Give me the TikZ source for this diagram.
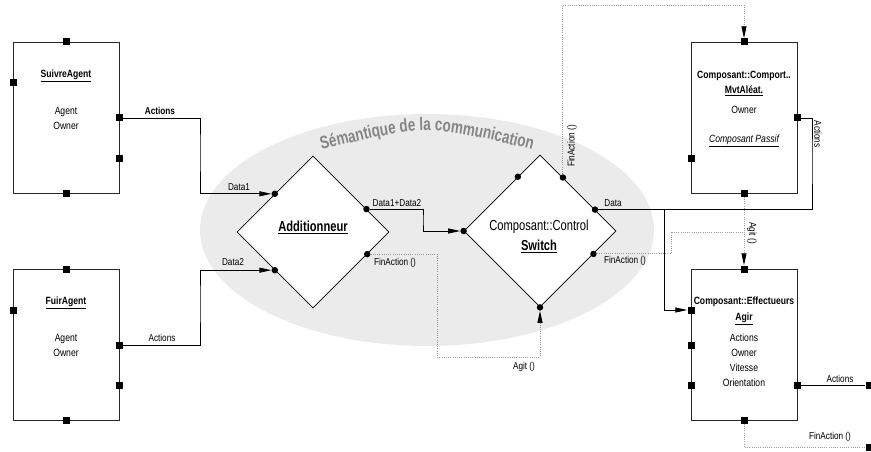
\documentclass[tikz,border=0pt]{standalone}
\usepackage{fontspec}
\setmainfont{Liberation Sans}[FakeStretch=0.82]
\newfontfamily\narrowfam{Liberation Sans}[FakeStretch=0.77]
\newfontfamily\semfam{Liberation Sans}[FakeStretch=0.75]
\usetikzlibrary{shapes.geometric,arrows.meta,decorations.text,calc}
\definecolor{ellgray}{HTML}{EBEBEB}
\definecolor{titlegray}{HTML}{858585}
\definecolor{dotgray}{HTML}{9A9A9A}
\newcommand\semfont{\semfam\bfseries\fontsize{18}{18}\selectfont\color{titlegray}}
\begin{document}
\begin{tikzpicture}[x=1pt,y=-1pt,
  box/.style={draw=black!85, line width=0.8pt, minimum width=106pt, minimum height=151pt, inner sep=0pt},
  port/.style={fill=black, minimum size=7pt, inner sep=0pt},
  pin/.style={circle, fill=black, minimum size=6.5pt, inner sep=0pt},
  dia/.style={diamond, draw=black, fill=white, line width=0.8pt, minimum width=152pt, minimum height=152pt, inner sep=0pt},
  wire/.style={draw=black, line width=0.8pt},
  sig/.style={draw=dotgray, line width=0.9pt, dash pattern=on 0.9pt off 1.3pt},
  tip/.style={-{Triangle[length=12pt,width=5pt,color=black]}},
  lbl/.style={font=\fontsize{10}{12}\selectfont, inner sep=0pt},
  txt/.style={font=\fontsize{10.5}{15}\selectfont, inner sep=0pt, align=center},
  big/.style={font=\narrowfam\fontsize{14.5}{16}\selectfont, inner sep=0pt, align=center},
]
\useasboundingbox (0,0) rectangle (871,452);

% semantic region
\node[ellipse, fill=ellgray, minimum width=454pt, minimum height=232pt, inner sep=0pt] (sem) at (427,230) {};
\path[decorate, decoration={text along path, text align=center,
  text={|\semfont|Sémantique de la communication}}]
  (317,151) .. controls (427,124) .. (537,151);

% boxes
\node[box] (suivre) at (66,117.5) {};
\node[box] (fuir) at (66,344.5) {};
\node[box] (mvt) at (744,117.5) {};
\node[box] (agir) at (744,344.5) {};

% box texts
\node[txt, font=\fontsize{10.5}{15}\selectfont\bfseries] (t1a) at (66,76) {\underline{SuivreAgent}};
\node[txt] (t1b) at (66,118.5) {Agent\\Owner};
\node[txt, font=\fontsize{10.5}{15}\selectfont\bfseries] (t2a) at (66,303) {\underline{FuirAgent}};
\node[txt] (t2b) at (66,345.5) {Agent\\Owner};
\node[txt, font=\fontsize{10.5}{15}\selectfont\bfseries] (t3a) at (744,83.5) {Composant::Comport..\\\underline{MvtAléat.}};
\node[txt] (t3b) at (744,110) {Owner};
\node[txt, font=\fontsize{10.5}{15}\selectfont\itshape] (t3c) at (744,141) {\underline{Composant Passif}};
\node[txt, font=\fontsize{10.5}{16}\selectfont\bfseries] (t4a) at (744,311) {Composant::Effectueurs\\\underline{Agir}};
\node[txt] (t4b) at (744,360) {Actions\\Owner\\Vitesse\\Orientation};

% diamonds
\node[dia] (add) at (313,232) {};
\node[dia] (sw) at (540,231) {};
\node[big, font=\narrowfam\fontsize{14.5}{16}\selectfont\bfseries] (addl) at (313,227) {\underline{Additionneur}};
\node[big] (swl1) at (539,227) {Composant::Control};
\node[big, font=\narrowfam\fontsize{14.5}{16}\selectfont\bfseries] (swl2) at (539,246) {\underline{Switch}};

% ports
\node[port] (p1t) at (66,42) {};
\node[port] (p1l) at (13,83) {};
\node[port] (p1r) at (119,118) {};
\node[port] (p1r2) at (119,158) {};
\node[port] (p1b) at (66,193) {};
\node[port] (p2t) at (66,269) {};
\node[port] (p2l) at (13,310) {};
\node[port] (p2r) at (119,345) {};
\node[port] (p2r2) at (119,385) {};
\node[port] (p2b) at (66,420) {};
\node[port] (p3t) at (744,42) {};
\node[port] (p3r) at (797,118) {};
\node[port] (p3l) at (691,158) {};
\node[port] (p3b) at (744,193) {};
\node[port] (p4t) at (744,269) {};
\node[port] (p4l) at (691,310) {};
\node[port] (p4l2) at (691,345) {};
\node[port] (p4l3) at (691,385) {};
\node[port] (p4r) at (797,385) {};
\node[port] (p4b) at (744,420) {};
\node[port] (out1) at (869,385) {};
\node[port] (out2) at (869,447) {};

% pins on diamonds
\node[pin] (a1) at ($(add.north)!0.5!(add.west)$) {};
\node[pin] (a2) at ($(add.south)!0.5!(add.west)$) {};
\node[pin] (a3) at ($(add.north)!0.7!(add.east)$) {};
\node[pin] (a4) at ($(add.south)!0.71!(add.east)$) {};
\node[pin] (s1) at ($(sw.north)!0.29!(sw.west)$) {};
\node[pin] (s2) at ($(sw.north)!0.3!(sw.east)$) {};
\node[pin] (s3) at ($(sw.north)!0.72!(sw.east)$) {};
\node[pin] (s4) at ($(sw.south)!0.7!(sw.east)$) {};
\node[pin] (s5) at (sw.south) {};
\node[pin] (s6) at (sw.west) {};

% bend coordinates
\coordinate (k1) at (200,150);
\coordinate (k2) at (200,300);
\coordinate (k3) at (423,220);
\coordinate (k4) at (437,357);
\coordinate (k5) at (650,5);
\coordinate (k6) at (812,160);
\coordinate (j6) at ($(s3)+(69,0)$);
\coordinate (k8) at (671,240);
\coordinate (m8) at (744,232);

% connectors
\draw[wire, tip] (p1r.east) -| (k1) |- (a1);
\draw[wire, tip] (p2r.east) -| (k2) |- (a2);
\draw[wire, tip] (a3) -| (k3) |- (s6);
\draw[sig, tip] (a4) -| (k4) -| (s5);
\draw[sig, tip] (s2) |- (k5) -| (p3t);
\draw[wire] (s3) -| (k6) |- (p3r);
\draw[wire, tip] (j6) |- (p4l);
\draw[sig, tip] (p3b) -- (p4t);
\draw[sig] (s4) -| (k8) |- (m8);
\draw[wire] (p4r) -- (out1);
\draw[sig] (p4b) |- (out2);

% connector labels
\node[lbl, font=\fontsize{10}{12}\selectfont\bfseries] (l1) at (160,111) {Actions};
\node[lbl] (l2) at (239,187) {Data1};
\node[lbl] (l3) at (233,262) {Data2};
\node[lbl] (l4) at (162,338) {Actions};
\node[lbl] (l5) at (397,203) {Data1+Data2};
\node[lbl] (l6) at (395,263) {FinAction ()};
\node[lbl] (l7) at (524,367) {Agit ()};
\node[lbl, rotate=90] (l8) at (572,146) {FinAction ()};
\node[lbl] (l9) at (613,203) {Data};
\node[lbl] (l10) at (625,261) {FinAction ()};
\node[lbl, rotate=-90] (l11) at (818,134) {Actions};
\node[lbl, rotate=-90] (l12) at (752,233) {Agit ()};
\node[lbl] (l13) at (840,379) {Actions};
\node[lbl] (l14) at (830,437) {FinAction ()};
\end{tikzpicture}
\end{document}
